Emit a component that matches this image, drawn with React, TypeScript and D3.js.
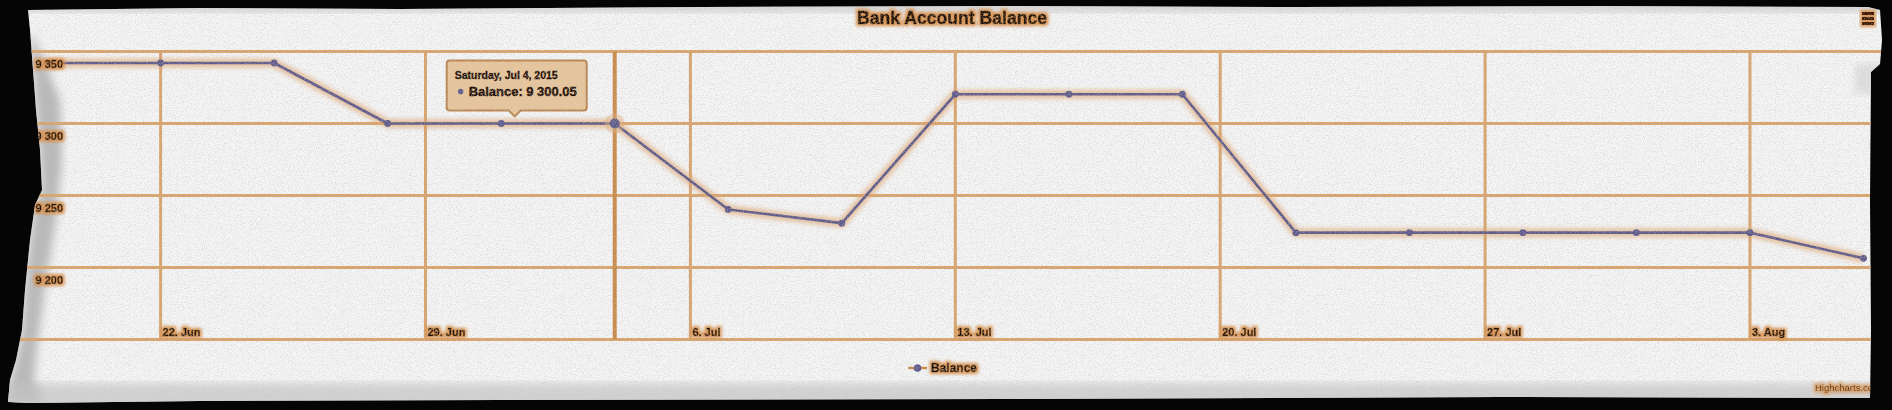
import * as d3 from 'd3'

// Balance sampled every third day
const pointDates = [
  '2015-06-19', '2015-06-22', '2015-06-25', '2015-06-28', '2015-07-01', '2015-07-04',
  '2015-07-07', '2015-07-10', '2015-07-13', '2015-07-16', '2015-07-19', '2015-07-22',
  '2015-07-25', '2015-07-28', '2015-07-31', '2015-08-03', '2015-08-06',
]
const balances = [
  9342, 9342, 9342, 9300, 9300, 9300.05,
  9240.3, 9230.8, 9320.3, 9320.3, 9320.3, 9224.2,
  9224.2, 9224.2, 9224.2, 9224.2, 9206.4,
]
const yTicks = [9150, 9200, 9250, 9300, 9350]
const yLabelTicks = [9200, 9250, 9300, 9350]
const xDomain = ['2015-06-18T15:04:00Z', '2015-08-06T04:45:00Z']
const hoverIndex = 5
const chartTitle = 'Bank Account Balance'
const seriesName = 'Balance'
const creditText = 'Highcharts.com'

const W = 1892
const H = 410
const plot = { left: 33, right: 1871, top: 51.5, bottom: 339.5 }

const GRID = '#d9a36a'
const LINE = '#5e5a8a'
const INK = '#1c0a00'

const locale = d3.formatLocale({ decimal: '.', thousands: ' ', grouping: [3], currency: ['', ''] })
const fmtInt = locale.format(',')
const fmtDec = locale.format(',.2f')
const fmtDay = d3.utcFormat('%-d. %b')
const fmtHeader = d3.utcFormat('%A, %b %-d, %Y')

// torn paper outline
const paperPts: [number, number][] = [
  [28, 10], [200, 8], [400, 9], [700, 7], [1000, 6], [1300, 7], [1600, 6], [1868, 7],
  [1880, 10], [1882, 40], [1880, 64], [1871, 72], [1870, 200], [1871, 330], [1870, 398],
  [1500, 397], [1000, 399], [500, 400], [200, 401], [30, 403], [8, 402], [10, 380],
  [16, 360], [22, 330], [25, 290], [30, 240], [35, 205], [42, 190], [40, 150], [36, 110],
  [33, 70], [30, 30],
]
const shadeLeftPts: [number, number][] = [
  [30, 30], [44, 60], [60, 100], [62, 160], [56, 220], [46, 280], [38, 340], [34, 380],
  [44, 403], [30, 403], [8, 402], [10, 380], [16, 360], [22, 330], [25, 290], [30, 240],
  [35, 205], [42, 190], [40, 150], [36, 110], [33, 70],
]

export default function App() {
  const data = pointDates.map((d, i) => ({ date: new Date(d + 'T00:00:00Z'), value: balances[i] }))

  const x = d3.scaleUtc()
    .domain(xDomain.map(d => new Date(d)))
    .range([plot.left, plot.right])
  const y = d3.scaleLinear()
    .domain([yTicks[0], yTicks[yTicks.length - 1]])
    .range([plot.bottom, plot.top])

  const xTicks = d3.utcMonday.every(1)!.range(x.domain()[0], x.domain()[1])
  const line = d3.line<{ date: Date; value: number }>()
    .x(d => x(d.date))
    .y(d => y(d.value))

  const paperPath = 'M' + paperPts.map(p => p.join(',')).join('L') + 'Z'
  const shadePath = 'M' + shadeLeftPts.map(p => p.join(',')).join('L') + 'Z'

  const hover = data[hoverIndex]
  const hx = x(hover.date)
  const hy = y(hover.value)
  const tip = { x: hx - 168, y: hy - 63, w: 140, h: 50 }
  const tipCx = tip.x + tip.w / 2 - 2

  const legendX = 908

  return (
    <svg width={W} height={H} style={{ position: 'absolute', left: 0, top: 0, display: 'block' }}
      fontFamily="'Liberation Sans', Arial, sans-serif">
      <defs>
        <clipPath id="paper"><path d={paperPath} /></clipPath>
        <filter id="glow" x="-20%" y="-40%" width="140%" height="180%">
          <feMorphology in="SourceAlpha" operator="dilate" radius="1.5" result="d" />
          <feGaussianBlur in="d" stdDeviation="1.8" result="b" />
          <feFlood floodColor="#d88a40" floodOpacity="0.9" />
          <feComposite in2="b" operator="in" result="g" />
          <feMerge><feMergeNode in="g" /><feMergeNode in="SourceGraphic" /></feMerge>
        </filter>
        <filter id="lineGlow" x="-5%" y="-20%" width="110%" height="140%">
          <feGaussianBlur stdDeviation="2.2" />
        </filter>
        <filter id="soft"><feGaussianBlur stdDeviation="4" /></filter>
        <filter id="grain" x="0" y="0" width="100%" height="100%">
          <feTurbulence type="fractalNoise" baseFrequency="0.85" numOctaves="2" seed="7" />
          <feColorMatrix type="matrix" values="0 0 0 0 0.55  0 0 0 0 0.55  0 0 0 0 0.55  3.2 0 0 0 -1.45" />
        </filter>
      </defs>

      <rect width={W} height={H} fill="#050505" />
      <path d={paperPath} fill="#f5f5f5" />

      <g clipPath="url(#paper)">
        {/* paper shading near the torn edges */}
        <path d={shadePath} fill="#a9a9a9" opacity={0.8} filter="url(#soft)" />
        <rect x={0} y={383} width={W} height={30} fill="#c4c4c4" opacity={0.7} filter="url(#soft)" />
        <rect x={0} y={0} width={W} height={12} fill="#bdbdbd" opacity={0.6} filter="url(#soft)" />
        <rect x={1855} y={64} width={30} height={30} fill="#d0d0d0" opacity={0.6} filter="url(#soft)" />

        {/* horizontal grid */}
        {yTicks.map(t => (
          <line key={'h' + t} x1={0} x2={1885} y1={y(t)} y2={y(t)} stroke={GRID} strokeWidth={3} />
        ))}
        {/* vertical grid */}
        {xTicks.map(t => (
          <line key={'v' + +t} x1={x(t)} x2={x(t)} y1={plot.top} y2={plot.bottom} stroke={GRID} strokeWidth={3} />
        ))}
        {/* crosshair */}
        <line x1={hx} x2={hx} y1={plot.top} y2={plot.bottom} stroke="#c98a48" strokeWidth={4} />

        {/* series */}
        <path d={line(data)!} fill="none" stroke="#e0a066" strokeWidth={9} opacity={0.6} filter="url(#lineGlow)" />
        <path d={line(data)!} fill="none" stroke={LINE} strokeWidth={2.6} strokeLinejoin="round" />
        {data.map((d, i) => (
          i === hoverIndex ? null :
            <circle key={i} cx={x(d.date)} cy={y(d.value)} r={3.4} fill={LINE} />
        ))}
        <circle cx={hx} cy={hy} r={10} fill="#e0b080" opacity={0.45} />
        <circle cx={hx} cy={hy} r={5} fill={LINE} />

        {/* y labels */}
        {yLabelTicks.map(t => (
          <text key={'yl' + t} x={63} y={y(t) + 16} textAnchor="end" fontSize={11} fontWeight="bold"
            fill={INK} stroke={INK} strokeWidth={0.4} filter="url(#glow)">{fmtInt(t)}</text>
        ))}
        {/* x labels */}
        {xTicks.map(t => (
          <text key={'xl' + +t} x={x(t) + 2} y={336} fontSize={11} fontWeight="bold"
            fill={INK} stroke={INK} strokeWidth={0.4} filter="url(#glow)">{fmtDay(t)}</text>
        ))}

        {/* title */}
        <text x={952} y={24} textAnchor="middle" fontSize={18} fontWeight="bold" fill={INK}
          stroke={INK} strokeWidth={0.6}
          textLength={190} lengthAdjust="spacingAndGlyphs" filter="url(#glow)">{chartTitle}</text>

        {/* context button */}
        <g filter="url(#glow)">
          {[12, 17, 22].map(v => (
            <rect key={v} x={1862} y={v} width={12} height={3} fill="#3a1400" />
          ))}
        </g>

        {/* legend */}
        <line x1={legendX} x2={legendX + 19} y1={368} y2={368} stroke="#c98a48" strokeWidth={2.5} />
        <circle cx={legendX + 9.5} cy={368} r={3.8} fill={LINE} />
        <text x={legendX + 23} y={372} fontSize={12} fontWeight="bold" fill="#0a0a0a"
          stroke="#0a0a0a" strokeWidth={0.4} filter="url(#glow)">{seriesName}</text>

        {/* credits */}
        <text x={1815} y={391} fontSize={9.5} fill="#4a2200" filter="url(#glow)">{creditText}</text>

        {/* tooltip */}
        <g>
          <path
            d={`M${tip.x + 3},${tip.y} H${tip.x + tip.w - 3} Q${tip.x + tip.w},${tip.y} ${tip.x + tip.w},${tip.y + 3}
              V${tip.y + tip.h - 3} Q${tip.x + tip.w},${tip.y + tip.h} ${tip.x + tip.w - 3},${tip.y + tip.h}
              H${tipCx + 6} L${tipCx},${tip.y + tip.h + 6} L${tipCx - 6},${tip.y + tip.h}
              H${tip.x + 3} Q${tip.x},${tip.y + tip.h} ${tip.x},${tip.y + tip.h - 3}
              V${tip.y + 3} Q${tip.x},${tip.y} ${tip.x + 3},${tip.y} Z`}
            fill="#e8c59a" stroke="#b98450" strokeWidth={2}
          />
          <text x={tip.x + 8} y={tip.y + 19} fontSize={10} fontWeight="bold" fill={INK}
            stroke={INK} strokeWidth={0.3}
            textLength={103} lengthAdjust="spacingAndGlyphs">{fmtHeader(hover.date)}</text>
          <circle cx={tip.x + 14} cy={tip.y + 31} r={2.8} fill={LINE} />
          <text x={tip.x + 22} y={tip.y + 35.5} fontSize={13} fontWeight="bold" fill={INK}
            stroke={INK} strokeWidth={0.4}
            textLength={108} lengthAdjust="spacingAndGlyphs">{`${seriesName}: ${fmtDec(hover.value)}`}</text>
        </g>

        {/* paper grain over everything */}
        <rect width={W} height={H} filter="url(#grain)" opacity={0.45} />
      </g>
    </svg>
  )
}
